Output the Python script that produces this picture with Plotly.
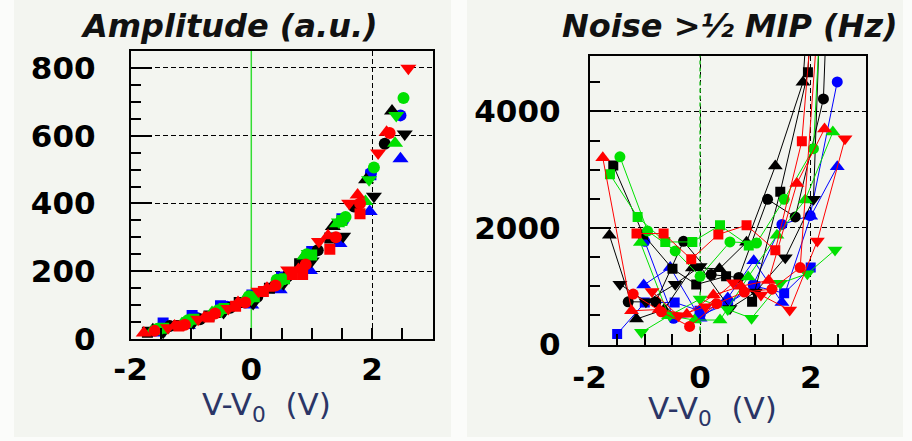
import plotly.graph_objects as go

# ---------------- data: left panel (Amplitude, a.u.) ----------------
L_RED_UP_X = [-1.78, -1.27, -0.78, -0.22, 0.26, 0.78, 1.27, 1.76, 2.24]
L_RED_UP_Y = [18, 38, 62, 108, 150, 205, 305, 425, 610]
L_RED_DN_X = [-1.38, -0.88, -0.38, 0.12, 0.61, 1.12, 1.62, 2.10, 2.60]
L_RED_DN_Y = [33, 58, 90, 141, 204, 288, 401, 549, 799]
L_RED_CI_X = [-1.60, -1.10, -0.60, -0.10, 0.40, 0.90, 1.40, 1.80, 2.29]
L_RED_CI_Y = [24, 42, 75, 108, 158, 220, 300, 400, 608]
L_RED_SQ_X = [-1.20, -0.70, -0.26, 0.20, 0.68, 0.85, 1.30, 1.80]
L_RED_SQ_Y = [38, 65, 97, 140, 190, 190, 265, 370]
L_GRN_CI_X = [-1.55, -1.05, -0.55, -0.04, 0.42, 0.92, 1.56, 2.03, 2.52]
L_GRN_CI_Y = [30, 55, 85, 126, 175, 250, 360, 506, 711]
L_GRN_UP_X = [-1.65, -1.15, -0.65, -0.10, 0.45, 0.88, 1.42, 1.89, 2.38]
L_GRN_UP_Y = [22, 45, 78, 118, 170, 245, 340, 406, 578]
L_GRN_DN_X = [-1.50, -1.00, -0.50, 0.00, 0.48, 0.95, 1.45, 1.95, 2.40]
L_GRN_DN_Y = [28, 52, 82, 118, 165, 252, 345, 470, 660]
L_GRN_SQ_X = [-1.45, -0.95, -0.45, 0.05, 0.55, 1.00, 1.50]
L_GRN_SQ_Y = [32, 58, 90, 125, 178, 248, 350]
L_BLU_SQ_X = [-1.46, -0.98, -0.51, 0.01, 0.50, 1.00, 1.50, 1.98]
L_BLU_SQ_Y = [47, 69, 98, 130, 183, 258, 355, 485]
L_BLU_UP_X = [-1.55, -1.05, -0.55, 0.00, 0.47, 0.97, 1.46, 1.96, 2.47]
L_BLU_UP_Y = [18, 40, 75, 100, 145, 202, 282, 376, 532]
L_BLU_CI_X = [-1.40, -0.90, -0.40, 0.08, 0.55, 1.02, 1.52, 1.98, 2.47]
L_BLU_CI_Y = [35, 62, 95, 128, 178, 255, 350, 490, 660]
L_BLK_UP_X = [-1.63, -1.13, -0.63, -0.12, 0.36, 0.86, 1.35, 1.90, 2.33]
L_BLK_UP_Y = [27, 45, 72, 112, 158, 239, 332, 470, 673]
L_BLK_DN_X = [-1.46, -0.96, -0.46, 0.03, 0.53, 1.00, 1.52, 2.03, 2.54]
L_BLK_DN_Y = [20, 48, 78, 105, 163, 230, 303, 421, 605]
L_BLK_CI_X = [-1.35, -0.85, -0.35, 0.10, 0.60, 1.10, 1.70, 2.21]
L_BLK_CI_Y = [38, 58, 92, 125, 185, 262, 391, 576]
L_BLK_SQ_X = [-1.72, -1.20, -0.70, -0.20, 0.30, 0.80, 1.30]
L_BLK_SQ_Y = [20, 40, 68, 108, 150, 222, 298]

# ---------------- data: right panel (Noise > 1/2 MIP, Hz) ----------------
R_BLU_SQ_X = [-1.50, -1.00, -0.46, -0.01, 0.50, 1.00, 1.52, 2.00]
R_BLU_SQ_Y = [180, 720, 722, 579, 700, 1000, 880, 1320]
R_BLU_UP_X = [-1.02, -0.54, 0.00, 0.50, 0.97, 1.48, 2.00, 2.48]
R_BLU_UP_Y = [1020, 1322, 450, 800, 1438, 720, 2200, 3050]
R_BLU_CI_X = [-1.00, -0.48, 0.00, 0.50, 0.96, 1.48, 1.99, 2.48]
R_BLU_CI_Y = [1770, 450, 500, 700, 1030, 2060, 2212, 4506]
R_BLK_UP_X = [-1.64, -1.15, -0.65, -0.14, 0.35, 0.84, 1.36, 1.86, 2.00]
R_BLK_UP_Y = [1875, 437, 600, 1315, 1300, 1755, 3062, 4500, 6500]
R_BLK_SQ_X = [-1.57, -1.03, -0.50, -0.07, 0.47, 0.94, 1.45, 1.95, 2.05]
R_BLK_SQ_Y = [3074, 1890, 1300, 1030, 1170, 733, 2623, 4672, 6500]
R_BLK_CI_X = [-1.30, -0.80, -0.30, 0.20, 0.70, 1.22, 1.72, 2.23, 2.32]
R_BLK_CI_Y = [733, 730, 1770, 1200, 1150, 2491, 2189, 4215, 6500]
R_BLK_DN_X = [-1.45, -0.98, -0.45, 0.00, 0.54, 1.00, 1.54, 2.05, 2.20]
R_BLK_DN_Y = [1036, 733, 1036, 1340, 620, 900, 1490, 2491, 6500]
R_GRN_CI_X = [-1.45, -0.95, -0.45, 0.00, 0.54, 1.02, 1.52, 2.05, 2.22]
R_GRN_CI_Y = [3222, 1950, 1606, 1170, 1760, 1740, 2491, 3360, 6500]
R_GRN_UP_X = [-1.08, -0.57, -0.10, 0.36, 0.87, 1.39, 1.90, 2.40]
R_GRN_UP_Y = [1750, 493, 420, 420, 1160, 1875, 2480, 3645]
R_GRN_DN_X = [-1.06, -0.55, 0.00, 0.50, 0.93, 1.45, 1.94, 2.44]
R_GRN_DN_Y = [209, 500, 780, 600, 450, 1050, 1215, 1624]
R_GRN_SQ_X = [-1.63, -1.13, -0.63, -0.14, 0.36, 0.88]
R_GRN_SQ_Y = [2920, 2189, 1760, 1760, 2046, 1700]
R_RED_UP_X = [-1.76, -1.24, -0.74, -0.24, 0.24, 0.74, 1.24, 1.75, 2.25]
R_RED_UP_Y = [3205, 579, 600, 520, 848, 1000, 1100, 2765, 3700]
R_RED_SQ_X = [-1.15, -0.66, -0.16, 0.33, 0.84, 1.36, 1.84, 2.10]
R_RED_SQ_Y = [1904, 1904, 1464, 1890, 2046, 1618, 3490, 6500]
R_RED_CI_X = [-1.21, -0.70, -0.19, 0.30, 0.80, 1.30, 1.81, 2.20]
R_RED_CI_Y = [866, 560, 311, 700, 900, 950, 1320, 6500]
R_RED_DN_X = [-0.87, -0.39, 0.10, 0.60, 1.10, 1.62, 2.12, 2.62]
R_RED_DN_Y = [911, 493, 650, 1060, 850, 590, 1778, 3530]

X_TICKS = [-2, 0, 2]
X_TICKTEXT = ["-2", "0", "2"]
L_Y_TICKS = [0, 200, 400, 600, 800]
R_Y_TICKS = [0, 2000, 4000]
LEFT_TITLE = "Amplitude (a.u.)"
RIGHT_TITLE = "Noise >½ MIP (Hz)"
X_TITLE = "V-V<sub>0</sub>\u00a0\u00a0(V)"

RED, GREEN, BLUE, BLACK = "#ff0000", "#00e000", "#0000ff", "#000000"

left_series = [
    (L_BLU_SQ_X, L_BLU_SQ_Y, BLUE, "square"),
    (L_BLU_UP_X, L_BLU_UP_Y, BLUE, "triangle-up"),
    (L_BLU_CI_X, L_BLU_CI_Y, BLUE, "circle"),
    (L_BLK_UP_X, L_BLK_UP_Y, BLACK, "triangle-up"),
    (L_BLK_DN_X, L_BLK_DN_Y, BLACK, "triangle-down"),
    (L_BLK_CI_X, L_BLK_CI_Y, BLACK, "circle"),
    (L_BLK_SQ_X, L_BLK_SQ_Y, BLACK, "square"),
    (L_GRN_CI_X, L_GRN_CI_Y, GREEN, "circle"),
    (L_GRN_UP_X, L_GRN_UP_Y, GREEN, "triangle-up"),
    (L_GRN_DN_X, L_GRN_DN_Y, GREEN, "triangle-down"),
    (L_GRN_SQ_X, L_GRN_SQ_Y, GREEN, "square"),
    (L_RED_UP_X, L_RED_UP_Y, RED, "triangle-up"),
    (L_RED_DN_X, L_RED_DN_Y, RED, "triangle-down"),
    (L_RED_CI_X, L_RED_CI_Y, RED, "circle"),
    (L_RED_SQ_X, L_RED_SQ_Y, RED, "square"),
]
right_series = [
    (R_BLU_SQ_X, R_BLU_SQ_Y, BLUE, "square"),
    (R_BLU_UP_X, R_BLU_UP_Y, BLUE, "triangle-up"),
    (R_BLU_CI_X, R_BLU_CI_Y, BLUE, "circle"),
    (R_BLK_UP_X, R_BLK_UP_Y, BLACK, "triangle-up"),
    (R_BLK_SQ_X, R_BLK_SQ_Y, BLACK, "square"),
    (R_BLK_CI_X, R_BLK_CI_Y, BLACK, "circle"),
    (R_BLK_DN_X, R_BLK_DN_Y, BLACK, "triangle-down"),
    (R_GRN_CI_X, R_GRN_CI_Y, GREEN, "circle"),
    (R_GRN_UP_X, R_GRN_UP_Y, GREEN, "triangle-up"),
    (R_GRN_DN_X, R_GRN_DN_Y, GREEN, "triangle-down"),
    (R_GRN_SQ_X, R_GRN_SQ_Y, GREEN, "square"),
    (R_RED_UP_X, R_RED_UP_Y, RED, "triangle-up"),
    (R_RED_SQ_X, R_RED_SQ_Y, RED, "square"),
    (R_RED_CI_X, R_RED_CI_Y, RED, "circle"),
    (R_RED_DN_X, R_RED_DN_Y, RED, "triangle-down"),
]

W, H = 912, 441
BG = "#f3f5f0"

def msize(sym):
    if sym.startswith("triangle"):
        return 14
    if sym == "square":
        return 11
    return 12

fig = go.Figure()
for xs, ys, col, sym in left_series:
    fig.add_trace(go.Scatter(x=xs, y=ys, mode="markers", xaxis="x", yaxis="y",
                             marker=dict(color=col, symbol=sym, size=msize(sym), line=dict(width=0)),
                             showlegend=False, hoverinfo="skip"))
for xs, ys, col, sym in right_series:
    fig.add_trace(go.Scatter(x=xs, y=ys, mode="lines+markers", xaxis="x2", yaxis="y2",
                             line=dict(color=col, width=1),
                             marker=dict(color=col, symbol=sym, size=msize(sym) - 1, line=dict(width=0)),
                             showlegend=False, hoverinfo="skip"))

tickfont = dict(family="DejaVu Sans", size=31, color="black", weight="bold")

def xaxis_cfg(domain, anchor, standoff):
    return dict(domain=domain, anchor=anchor, range=[-2, 3], tickmode="array",
                tickvals=X_TICKS, ticktext=X_TICKTEXT, ticks="inside", ticklen=11,
                tickwidth=1.5, tickcolor="black",
                minor=dict(dtick=0.5, tick0=0, ticks="inside", ticklen=11, tickwidth=1.5,
                           tickcolor="black", showgrid=False),
                showgrid=True, gridcolor="black", gridwidth=1, griddash="5px,3px",
                showline=True, linecolor="black", linewidth=1.5, mirror=True,
                zeroline=False, tickfont=tickfont, ticklabelstandoff=standoff,
                automargin=False)

def yaxis_cfg(domain, anchor, rng, tickvals, minor_dtick, standoff):
    return dict(domain=domain, anchor=anchor, range=rng, tickmode="array",
                tickvals=tickvals, ticks="inside", ticklen=22, tickwidth=1.5,
                tickcolor="black",
                minor=dict(dtick=minor_dtick, tick0=0, ticks="inside", ticklen=11,
                           tickwidth=1.5, tickcolor="black", showgrid=False),
                showgrid=True, gridcolor="black", gridwidth=1, griddash="5px,3px",
                showline=True, linecolor="black", linewidth=1.5, mirror=True,
                zeroline=False, tickfont=tickfont, ticklabelstandoff=standoff,
                automargin=False)

L_DX = [130.5 / W, 432.5 / W]
L_DY = [1 - 339 / H, 1 - 51 / H]
R_DX = [589.5 / W, 866 / W]
R_DY = [1 - 344.5 / H, 1 - 55.5 / H]

fig.update_layout(
    width=W, height=H, margin=dict(l=0, r=0, t=0, b=0, autoexpand=False),
    paper_bgcolor=BG, plot_bgcolor=BG,
    xaxis=xaxis_cfg(L_DX, "y", 2),
    yaxis=yaxis_cfg(L_DY, "x", [0, 850], L_Y_TICKS, 50, 27),
    xaxis2=xaxis_cfg(R_DX, "y2", 5),
    yaxis2=yaxis_cfg(R_DY, "x2", [0, 4960], R_Y_TICKS, 500, 21),
)

# light borders around the two pasted panels
for x0, x1, y0, y1 in [(0, 14, 0, H), (451, 467, 0, H), (903, W, 0, H), (0, W, 437, H)]:
    fig.add_shape(type="rect", xref="paper", yref="paper", x0=x0 / W, x1=x1 / W,
                  y0=1 - y1 / H, y1=1 - y0 / H, line=dict(width=0),
                  fillcolor="#fbfcfa", layer="below")

# green V = V0 markers
fig.add_shape(type="line", xref="x", yref="y", x0=0, x1=0, y0=0, y1=850,
              line=dict(color="#33dd33", width=1.5), layer="between")
fig.add_shape(type="line", xref="x2", yref="y2", x0=0, x1=0, y0=0, y1=4960,
              line=dict(color="#22bb22", width=1.5, dash="4px,3px"), layer="between")

title_font = dict(family="DejaVu Sans", size=32, color="#111111", weight="bold", style="italic")
fig.add_annotation(text=LEFT_TITLE, xref="paper", yref="paper", x=78 / W, y=1 - 26 / H,
                   xanchor="left", yanchor="middle", showarrow=False, font=title_font)
fig.add_annotation(text=RIGHT_TITLE, xref="paper", yref="paper", x=560 / W, y=1 - 26 / H,
                   xanchor="left", yanchor="middle", showarrow=False, font=title_font)

xt_font = dict(family="DejaVu Sans", size=31, color="#2b3566")
fig.add_annotation(text=X_TITLE, xref="paper", yref="paper", x=266 / W, y=1 - 406 / H,
                   xanchor="center", yanchor="middle", showarrow=False, font=xt_font)
fig.add_annotation(text=X_TITLE, xref="paper", yref="paper", x=712 / W, y=1 - 410 / H,
                   xanchor="center", yanchor="middle", showarrow=False, font=xt_font)

fig.write_html("out.html")
